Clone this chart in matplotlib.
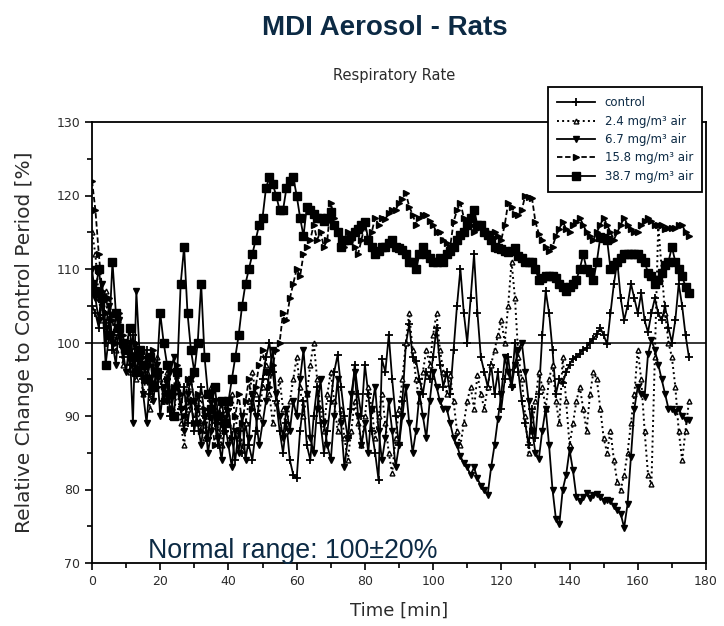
import numpy as np
import matplotlib
matplotlib.use("Agg")
import matplotlib.pyplot as plt
from matplotlib.ticker import MultipleLocator

# time axis, one reading per minute
time_min = np.arange(0, 176)

# control
control = [
    105, 104, 102, 106, 100, 103, 99, 104, 101, 98,
    100, 97, 101, 96, 98, 95, 99, 93, 97, 94,
    96, 92, 95, 90, 93, 96, 91, 94, 89, 92,
    88, 91, 94, 90, 87, 92, 89, 86, 90, 88,
    91, 87, 84, 88, 85, 89, 86, 84, 88, 92,
    95, 98, 100, 96, 92, 88, 85, 89, 84, 82,
    81.5, 88, 92, 86, 84, 90, 94, 89, 85, 88,
    92, 96, 98.3, 94, 90, 87, 91, 97, 93, 90,
    97, 93, 88, 85, 81.3, 97.7, 96, 101, 95, 90,
    86, 92, 99.7, 102.5, 98, 97.5, 95, 93, 96, 95,
    98, 102, 97, 94, 96, 93, 99, 105, 110, 104,
    100, 106, 112, 104, 98, 96, 94, 97, 93, 96,
    91, 95, 98, 94, 100, 96, 92, 89, 86, 91,
    87, 93, 101, 107, 104, 99, 93, 95, 94.5, 96,
    97, 97.8, 98, 98.5, 99, 99.3, 100, 100.5, 101.1, 102,
    101, 99.8, 104, 108, 111, 106, 103, 105, 108, 106,
    104, 106.7, 103, 101.4, 104, 106, 104, 103, 105, 102,
    100, 103, 108, 105, 101, 98,
]

# 2.4 mg/m3 air
dose_2_4 = [
    115, 112, 106, 103, 107, 101, 104, 99, 102, 97,
    100, 96, 99, 95, 97, 93, 96, 91, 94, 98,
    95, 92, 96, 93, 90, 94, 89, 86, 91, 95,
    92, 89, 93, 87, 90, 94, 91, 88, 86, 92,
    89, 93, 90, 87, 85.5, 89, 92, 96, 93, 90,
    94, 97, 93, 89, 92, 95, 91, 88, 92, 95,
    98, 94, 90, 93, 97, 100, 95, 91, 88, 93,
    96, 92, 88, 91, 87, 84, 88, 92, 89, 86,
    90, 94, 91, 87, 90, 93, 89, 85, 82.2, 87,
    91, 95, 100, 104, 99, 95, 92, 96, 99, 97,
    101, 104, 99, 96, 93, 95.6, 92, 88, 86, 89,
    92, 94, 91, 95.6, 93, 91, 94, 97, 99, 101,
    103, 100, 105, 111, 106, 98, 95, 90, 85, 88,
    92, 96, 94, 91, 95, 97, 92, 89, 98, 92,
    86, 89, 92, 94, 91, 88, 93, 96, 95, 91,
    87, 85, 88, 84, 81, 80, 82, 85, 89, 93,
    99, 95, 88, 82, 80.7, 98, 116, 110, 104, 100,
    98, 94, 88, 84, 88, 92,
]

# 6.7 mg/m3 air
dose_6_7 = [
    110, 106, 103, 108, 102, 105, 100, 97, 103, 99,
    96, 100, 89, 107, 98, 93, 89, 95, 92, 97,
    90, 94, 92, 96, 98, 94, 91, 88, 93, 95,
    92, 89, 86, 90, 85, 88, 92, 87, 84, 89,
    86, 83, 88, 85, 90, 84, 87, 93, 90, 86,
    89, 92, 96, 99, 93, 90, 87, 91, 88, 92,
    90, 95, 99, 93, 87, 85, 91, 95, 89, 86,
    84, 90, 95, 89, 83, 87, 93, 96, 90, 86,
    89, 85, 91, 94, 88, 84, 87, 92, 88, 83,
    86, 90, 94, 89, 85, 88, 93, 90, 87, 92,
    96, 94, 92, 91, 91, 89, 87, 86, 84.5, 83.6,
    83, 82, 83, 81.5, 80.5, 80, 79.3, 83, 86, 89.6,
    93, 98, 96, 94, 97, 99, 100, 96, 92, 88,
    85, 84.2, 88, 91, 86, 80, 76, 75.3, 80, 82,
    85.4, 82.6, 79, 78.5, 79, 79.5, 78.8, 79.2, 79.4, 79,
    78.5, 78.6, 78.4, 77.8, 77.2, 76.7, 74.8, 78, 84.4, 91,
    94, 93, 92.6, 98.4, 100.3, 99, 97, 95, 93, 91,
    91, 90.5, 91, 90, 89.5, 89.4,
]

# 15.8 mg/m3 air
dose_15_8 = [
    122, 118, 112, 107, 104, 106, 103, 100, 104, 101,
    99, 102, 97, 100, 96, 98, 95, 97, 99, 94,
    96, 92, 95, 91, 94, 97, 93, 90, 95, 92,
    89, 93, 88, 91, 87, 90, 86, 89, 92, 88,
    91, 87, 90, 93, 89, 92, 95, 91, 94, 97,
    99, 96, 94, 97, 99, 100, 104, 103, 106, 108,
    110, 109, 112, 113, 114, 116, 114, 115, 113, 114,
    119, 117, 115, 114, 113, 115, 114, 113, 112, 114,
    116, 114, 115, 117, 116, 117, 116.8, 117.6, 118, 118,
    119, 119.5, 120.3, 118.5, 117.4, 116, 117, 117.4, 117.4, 116.5,
    116, 115, 115, 114, 113.5, 113, 116.4, 118, 119, 117,
    116.5, 116, 115, 115.5, 116, 115.5, 115, 114, 115, 114.5,
    114, 116, 119, 118.5, 117.5, 117.3, 118, 120, 119.8, 119.6,
    116.4, 114.8, 114, 113, 112.5, 113, 114.5, 115.5, 116.4, 115.5,
    115, 116, 116.4, 117, 116, 115, 114.5, 114, 115, 116,
    117, 116, 115, 114, 115, 116, 117, 116, 115.5, 115,
    115, 116, 116.5, 117, 116.5, 116, 116, 116, 115.5, 115.6,
    115.6, 115.6, 116, 116, 115, 114.5,
]

# 38.7 mg/m3 air
dose_38_7 = [
    108, 107, 110, 106, 97, 101, 111, 104, 102, 100,
    99, 102, 98, 96, 99, 97, 95, 98, 94, 96,
    104, 100, 97, 93, 90, 96, 108, 113, 104, 99,
    96, 100, 108, 98, 93, 91, 94, 90, 92, 89,
    92, 95, 98, 101, 105, 108, 110, 112, 114, 116,
    117, 121, 122.5, 121.5, 120, 118, 118, 121, 122, 122.5,
    120, 117, 114.5, 118.5, 118, 117.5, 117, 117, 116.5, 117,
    117.8, 116, 115, 113, 114, 114, 114.5, 115, 115.5, 116,
    116.4, 114, 113, 112, 112.5, 113, 113, 113.5, 114, 113,
    112.8, 112.6, 112, 111, 111, 110, 112, 113, 112, 111.5,
    111, 111, 111.5, 111, 112, 112.5, 113, 114, 114.6, 115,
    116, 117, 118, 116, 116, 115, 114.6, 114, 113, 112.8,
    112.7, 112.5, 112.3, 112.5, 112.8, 111.8, 111.5, 111, 111, 111,
    110, 108.5, 108.8, 109, 109, 109, 108.8, 108, 107.6, 107,
    107.5, 108, 108.5, 110, 112, 110, 109.6, 108.5, 111, 114.3,
    114.2, 114, 110, 110.5, 111, 111.5, 112, 112, 112, 112,
    112, 111.5, 111, 109.5, 109, 108, 108.5, 109.5, 110.5, 111,
    113, 111, 110, 109, 107.6, 106.7,
]

labels = ["control", "2.4 mg/m³ air", "6.7 mg/m³ air", "15.8 mg/m³ air", "38.7 mg/m³ air"]

navy = "#0c2a44"
textgray = "#2b2b2b"

fig = plt.figure(figsize=(7.24, 6.26), dpi=100)
ax = fig.add_axes([92 / 724, 1 - 563 / 626, 614 / 724, 441 / 626])

ax.plot(time_min, control, color="black", lw=1.3, marker="+", ms=6, mew=1.3, label=labels[0])
ax.plot(time_min, dose_2_4, color="black", lw=1.4, ls=":", marker="^", ms=3.5, mfc="white", mew=1.0, label=labels[1])
ax.plot(time_min, dose_6_7, color="black", lw=1.3, marker="v", ms=5, label=labels[2])
ax.plot(time_min, dose_15_8, color="black", lw=1.3, ls=(0, (3, 1.5)), marker=">", ms=5, label=labels[3])
ax.plot(time_min, dose_38_7, color="black", lw=1.3, marker="s", ms=5.5, label=labels[4])

ax.axhline(100, color="black", lw=1.1)

ax.set_xlim(0, 180)
ax.set_ylim(70, 130)
ax.xaxis.set_major_locator(MultipleLocator(20))
ax.xaxis.set_minor_locator(MultipleLocator(10))
ax.yaxis.set_major_locator(MultipleLocator(10))
ax.yaxis.set_minor_locator(MultipleLocator(5))
ax.tick_params(which="both", direction="out", width=1.2, labelsize=9, labelcolor=textgray)
ax.tick_params(which="major", length=5)
ax.tick_params(which="minor", length=3.5)
for s in ax.spines.values():
    s.set_linewidth(1.3)

ax.set_xlabel("Time [min]", fontsize=13, color=textgray, labelpad=10)
ax.set_ylabel("Relative Change to Control Period [%]", fontsize=14.5, color=textgray, labelpad=16)

fig.text(0.532, 0.955, "MDI Aerosol - Rats", ha="center", va="center",
         fontsize=20, fontweight="bold", color=navy, family="Liberation Sans")
fig.text(0.545, 0.88, "Respiratory Rate", ha="center", va="center",
         fontsize=10.5, color=textgray)
fig.text(0.204, 0.12, "Normal range: 100±20%", ha="left", va="center",
         fontsize=19.3, color=navy, family="Liberation Sans")

leg = ax.legend(loc="upper left", bbox_to_anchor=(548 / 724, 1 - 87 / 626),
                bbox_transform=fig.transFigure, fontsize=8.5, frameon=True,
                fancybox=False, framealpha=1, edgecolor="black",
                handlelength=3.2, labelcolor=navy, borderpad=0.8,
                borderaxespad=0, labelspacing=0.45)
leg.get_frame().set_linewidth(1.3)

fig.savefig("out.png", dpi=100)
